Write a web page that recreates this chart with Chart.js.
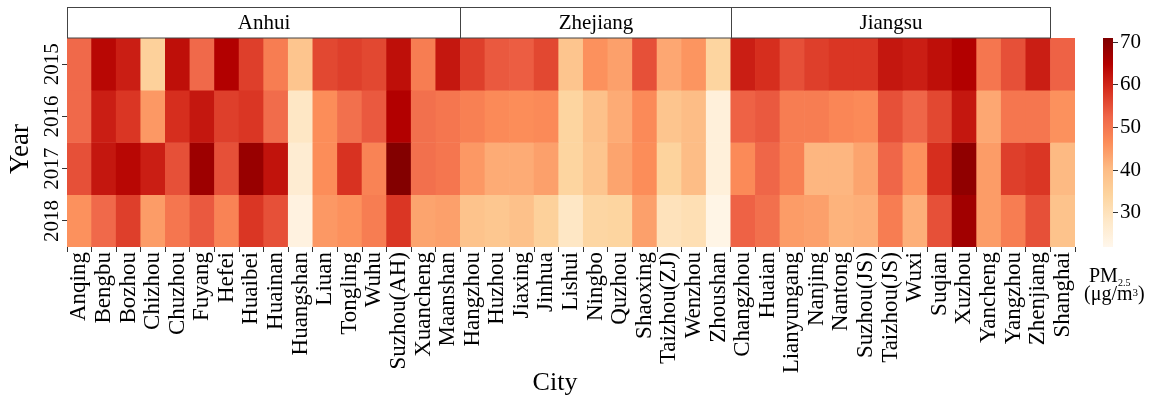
<!DOCTYPE html>
<html>
<head>
<meta charset="utf-8">
<title>PM2.5 by city and year</title>
<script src="https://cdn.jsdelivr.net/npm/chart.js@4"></script>
<style>
  html, body { margin: 0; padding: 0; background: #fff; }
  #wrap { width: 1153px; height: 401px; }
</style>
</head>
<body>
<div id="wrap"><canvas id="chart"></canvas></div>
<script>
// Cities along the x axis, grouped by province
const cities = [
  'Anqing', 'Bengbu', 'Bozhou', 'Chizhou', 'Chuzhou', 'Fuyang', 'Hefei', 'Huaibei',
  'Huainan', 'Huangshan', 'Liuan', 'Tongling', 'Wuhu', 'Suzhou(AH)', 'Xuancheng', 'Maanshan',
  'Hangzhou', 'Huzhou', 'Jiaxing', 'Jinhua', 'Lishui', 'Ningbo', 'Quzhou', 'Shaoxing',
  'Taizhou(ZJ)', 'Wenzhou', 'Zhoushan',
  'Changzhou', 'Huaian', 'Lianyungang', 'Nanjing', 'Nantong', 'Suzhou(JS)', 'Taizhou(JS)',
  'Wuxi', 'Suqian', 'Xuzhou', 'Yancheng', 'Yangzhou', 'Zhenjiang',
  'Shanghai'
];
const years = ['2015', '2016', '2017', '2018'];

// Annual mean PM2.5 (µg/m³), one value per city
const pm2015 = [52, 64, 61, 35, 63, 52, 65, 57, 49, 38, 56, 57, 56, 63, 49, 62,
                57, 54, 53.5, 56, 38, 46, 44, 55, 43, 45.5, 34,
                61, 59, 55, 57, 58, 58, 62, 61, 63, 65, 50, 55, 61,
                53];
const pm2016 = [52, 61, 58, 45, 59, 62, 57, 58, 51.5, 28.5, 46.5, 51, 54, 65, 51, 50,
                48.5, 47, 46.5, 47, 34, 39, 42.5, 47, 38, 40, 25,
                53, 54, 49, 49, 47.5, 47, 55, 52.5, 56, 62, 43, 50, 50,
                46];
const pm2017 = [55, 62, 64, 61, 55, 67.5, 55, 68, 62.5, 26.5, 46.5, 58.5, 48, 70.5, 51, 50,
                45, 42.5, 42.5, 44, 34, 38, 43.5, 46.5, 34.5, 40, 25,
                47, 52.5, 48.5, 41, 41, 43.5, 52.5, 46, 59, 69, 44.5, 57, 58,
                40.5];
const pm2018 = [46, 52, 57, 44.5, 50, 54, 48, 58, 55, 24, 45, 46, 49, 58, 43.5, 44,
                38.5, 37.5, 39, 35, 28.5, 33.5, 34, 44, 30, 31, 23,
                53, 51, 44.5, 44, 41.5, 42, 49, 42, 55, 67, 44.5, 49, 55,
                38.5];

// Province strips above the heat map (number of consecutive cities in each)
const provinces = ['Anhui', 'Zhejiang', 'Jiangsu'];
const provinceCounts = [16, 11, 13];

// Colour scale range and colour bar ticks
const colorMin = 22;
const colorMax = 71;
const colorTicks = [30, 40, 50, 60, 70];

// OrRd colour map stops
const ORRD = [
  [255, 247, 236], [254, 232, 200], [253, 212, 158], [253, 187, 132], [252, 141, 89],
  [239, 101, 72], [215, 48, 31], [179, 0, 0], [127, 0, 0]
];
function orrd(v) {
  let t = (v - colorMin) / (colorMax - colorMin);
  t = Math.max(0, Math.min(1, t));
  const p = t * (ORRD.length - 1);
  const i = Math.min(Math.floor(p), ORRD.length - 2);
  const f = p - i;
  const a = ORRD[i], b = ORRD[i + 1];
  const c = a.map((av, k) => Math.round(av + (b[k] - av) * f));
  return `rgb(${c[0]},${c[1]},${c[2]})`;
}

const SERIF = '"Liberation Serif", "Times New Roman", "DejaVu Serif", serif';
const series = [pm2015, pm2016, pm2017, pm2018];

// One row of cells per year: a floating bar spanning [row, row + 1]
const datasets = series.map((vals, j) => ({
  label: years[j],
  xAxisID: 'x',
  yAxisID: 'y',
  data: vals.map((v, i) => ({ x: cities[i], y: [j, j + 1], v })),
  backgroundColor: ctx => orrd(ctx.raw.v),
  borderWidth: 0,
  barPercentage: 1,
  categoryPercentage: 1,
  grouped: false
}));

const decorations = {
  id: 'decorations',
  afterDraw(chart) {
    const { ctx, chartArea } = chart;
    const xs = chart.scales.x;
    const cs = chart.scales.y2;
    const cw = (xs.right - xs.left) / cities.length;
    ctx.save();

    // province strips
    let start = 0;
    const stripTop = 7.5;
    provinces.forEach((name, k) => {
      const x0 = Math.round(xs.getPixelForValue(start) - cw / 2) + 0.5;
      const x1 = Math.round(xs.getPixelForValue(start + provinceCounts[k] - 1) + cw / 2) + 0.5;
      ctx.fillStyle = '#fff';
      ctx.fillRect(x0, stripTop, x1 - x0, chartArea.top - stripTop);
      ctx.strokeStyle = '#444';
      ctx.lineWidth = 1;
      ctx.strokeRect(x0, stripTop, x1 - x0, chartArea.top - stripTop);
      ctx.fillStyle = '#000';
      ctx.font = `21px ${SERIF}`;
      ctx.textAlign = 'center';
      ctx.textBaseline = 'middle';
      ctx.fillText(name, (x0 + x1) / 2, (stripTop + chartArea.top) / 2 + 1);
      start += provinceCounts[k];
    });

    // colour bar
    const top = cs.getPixelForValue(colorMax);
    const bottom = cs.getPixelForValue(colorMin);
    const barX = cs.left + 28;
    const grad = ctx.createLinearGradient(0, bottom, 0, top);
    ORRD.forEach((c, i) => grad.addColorStop(i / (ORRD.length - 1), `rgb(${c[0]},${c[1]},${c[2]})`));
    ctx.fillStyle = grad;
    ctx.fillRect(barX, top, 10, bottom - top);

    // colour bar caption: PM2.5 (µg/m³)
    ctx.fillStyle = '#000';
    ctx.textAlign = 'left';
    ctx.textBaseline = 'alphabetic';
    ctx.font = `20px ${SERIF}`;
    ctx.fillText('PM', 1089, 282);
    const pmW = ctx.measureText('PM').width;
    ctx.font = `10px ${SERIF}`;
    ctx.fillText('2.5', 1089 + pmW, 286);
    ctx.font = `20px ${SERIF}`;
    const unitA = '(\u03bcg/m';
    ctx.fillText(unitA, 1084, 300);
    const wA = ctx.measureText(unitA).width;
    ctx.font = `11px ${SERIF}`;
    ctx.fillText('3', 1084 + wA, 296);
    const w3 = ctx.measureText('3').width;
    ctx.font = `20px ${SERIF}`;
    ctx.fillText(')', 1084 + wA + w3, 300);

    // axis titles
    ctx.font = `26px ${SERIF}`;
    ctx.textAlign = 'center';
    ctx.textBaseline = 'middle';
    ctx.fillText('City', 555, 383);
    ctx.translate(21, 149);
    ctx.rotate(-Math.PI / 2);
    ctx.font = `27px ${SERIF}`;
    ctx.fillText('Year', 0, 0);
    ctx.restore();
  }
};

new Chart(document.getElementById('chart'), {
  type: 'bar',
  data: { labels: cities, datasets },
  options: {
    responsive: true,
    maintainAspectRatio: false,
    animation: false,
    layout: { padding: { top: 38, left: 0, right: 0, bottom: 0 } },
    plugins: { legend: { display: false }, tooltip: { enabled: false } },
    scales: {
      x: {
        type: 'category',
        offset: true,
        grid: { display: true, drawOnChartArea: false, tickLength: 5, tickColor: '#333', tickWidth: 1 },
        border: { display: false },
        ticks: {
          autoSkip: false, minRotation: 90, maxRotation: 90, padding: 0,
          color: '#000', font: { family: SERIF, size: 23 }
        },
        afterFit: s => { s.height = 154; }
      },
      y: {
        type: 'linear',
        min: 0, max: 4, reverse: true,
        afterBuildTicks: s => { s.ticks = years.map((_, j) => ({ value: j + 0.5 })); },
        grid: { display: true, drawOnChartArea: false, tickLength: 5, tickColor: '#333', tickWidth: 1 },
        border: { display: false },
        ticks: {
          callback: (value, index) => years[index],
          minRotation: 90, maxRotation: 90, crossAlign: 'center', padding: -11,
          color: '#000', font: { family: SERIF, size: 21 }
        },
        afterFit: s => { s.width = 67; }
      },
      y2: {
        type: 'linear',
        position: 'right',
        min: colorMin, max: colorMax,
        afterBuildTicks: s => { s.ticks = colorTicks.map(v => ({ value: v })); },
        grid: {
          display: true, drawOnChartArea: false, tickLength: 43, tickColor: '#333', tickWidth: 1,
          tickBorderDash: [0, 38, 5, 100]
        },
        border: { display: false },
        ticks: { padding: 2, color: '#000', font: { family: SERIF, size: 21 } },
        afterFit: s => { s.width = 78; }
      }
    }
  },
  plugins: [decorations]
});
</script>
</body>
</html>
